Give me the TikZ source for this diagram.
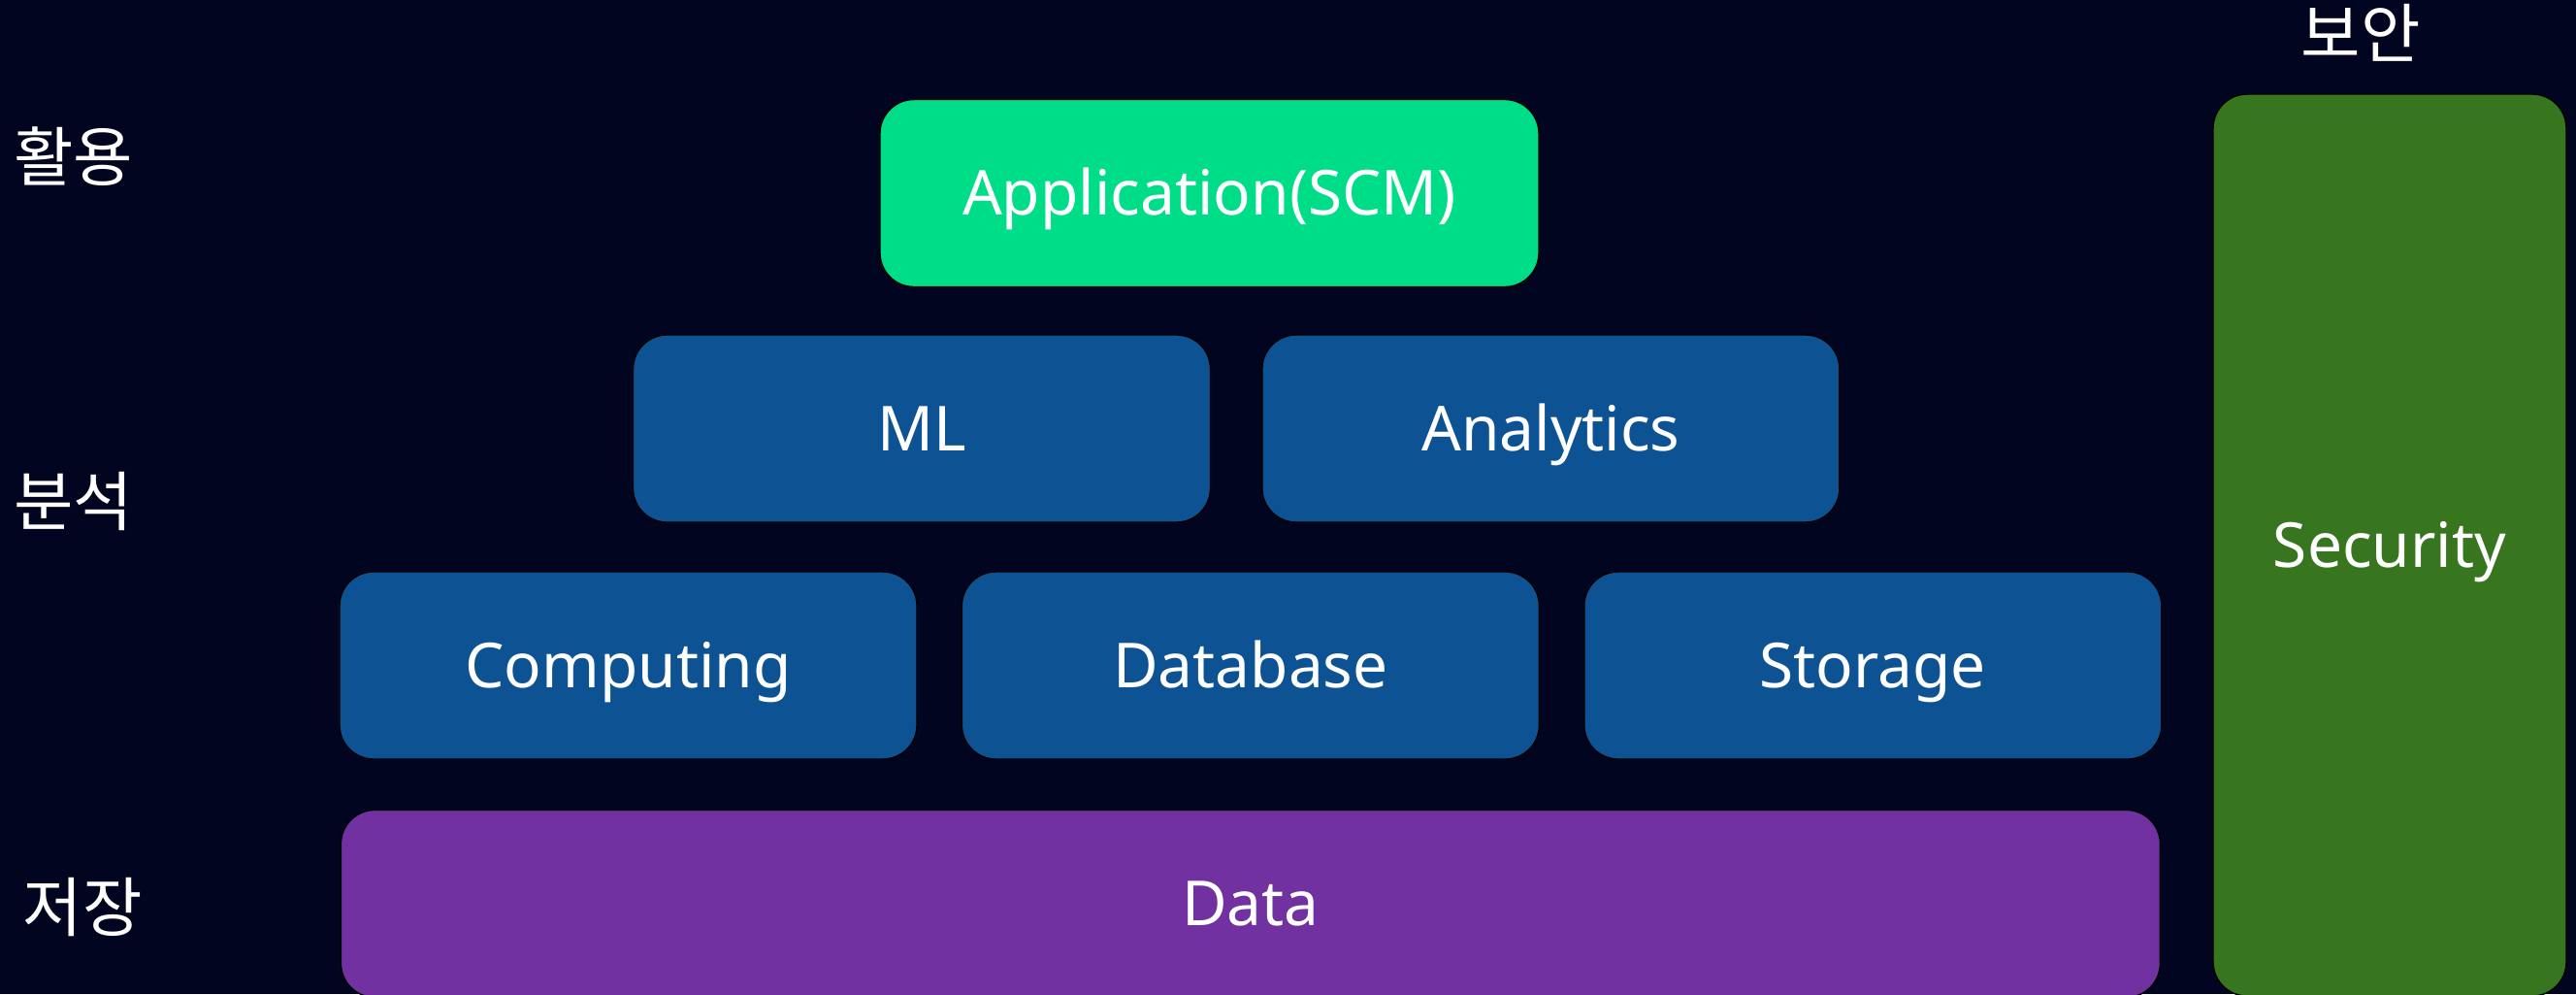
\documentclass[tikz,border=0pt]{standalone}
\usepackage{fontspec}
\setmainfont{Noto Sans}
\newfontfamily\krfont{Noto Sans CJK KR}
\usepackage{tikz}
\usetikzlibrary{positioning}

\definecolor{bgnavy}{RGB}{2,5,31}
\definecolor{appgreen}{RGB}{0,221,137}
\definecolor{layerblue}{RGB}{13,83,148}
\definecolor{datapurple}{RGB}{113,49,160}
\definecolor{secgreen}{RGB}{55,117,31}

\begin{document}
\begin{tikzpicture}[
      layerbox/.style={
         rectangle,
         rounded corners=0.35cm,
         draw=black,
         text=white,
         inner sep=0pt,
         minimum width=5.95cm,
         minimum height=1.93cm,
         text height=12.9pt,
         text depth=0pt,
         font=\fontsize{18.2}{22}\selectfont},
      tierlabel/.style={text=white, font=\krfont\fontsize{19}{23}\selectfont},
      node distance=0.51cm and 0.45cm
      ]
      \fill[bgnavy] (0,0) rectangle (26.55,-10.24);
      \useasboundingbox (0,0) rectangle (26.55,-10.24);

      \node[layerbox, fill=layerblue] (comp) at (6.475,-6.855) {Computing};
      \node[layerbox, fill=layerblue, right =of comp] (db) {Database};
      \node[layerbox, fill=layerblue, right =of db] (stor) {Storage};
      \node[layerbox, fill=datapurple, minimum width=18.75cm, below =of db] (data) {Data};

      \node[layerbox, fill=layerblue] (ml) at (9.5,-4.415) {ML};
      \node[layerbox, fill=layerblue, right =0.52cm of ml] (ana) {Analytics};

      \node[layerbox, fill=appgreen, minimum width=6.79cm] (app) at (12.465,-1.99) {Application(SCM)};

      \node[layerbox, fill=secgreen, minimum width=3.64cm, minimum height=9.29cm] (sec) at (24.63,-5.615) {Security};

      \node[tierlabel] (use) at (0.76,-1.61) {활용};
      \node[tierlabel] (anl) at (0.76,-5.16) {분석};
      \node[tierlabel] (save) at (0.85,-9.35) {저장};
      \node[tierlabel] (secl) at (24.33,-0.34) {보안};
\end{tikzpicture}
\end{document}
